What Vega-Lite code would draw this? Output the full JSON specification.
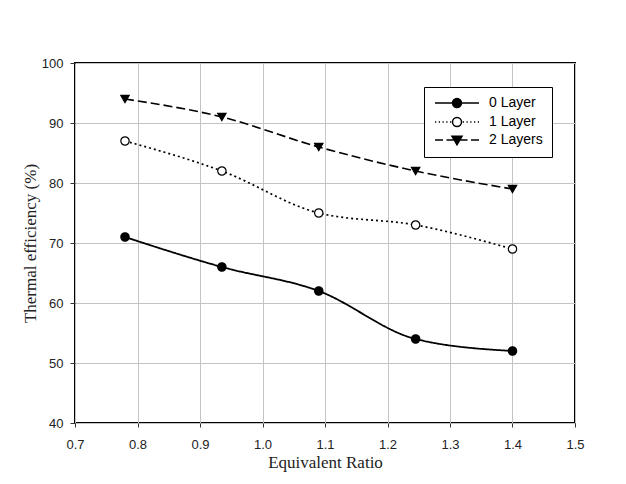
{
  "$schema": "https://vega.github.io/schema/vega-lite/v6.json",
  "width": 500,
  "height": 360,
  "autosize": "none",
  "padding": {"left": 75, "top": 63, "right": 51, "bottom": 61},
  "background": "white",
  "data": {
    "values": [
      {"ratio": 0.78, "eff": 71, "series": "0 Layer"},
      {"ratio": 0.935, "eff": 66, "series": "0 Layer"},
      {"ratio": 1.09, "eff": 62, "series": "0 Layer"},
      {"ratio": 1.245, "eff": 54, "series": "0 Layer"},
      {"ratio": 1.4, "eff": 52, "series": "0 Layer"},
      {"ratio": 0.78, "eff": 87, "series": "1 Layer"},
      {"ratio": 0.935, "eff": 82, "series": "1 Layer"},
      {"ratio": 1.09, "eff": 75, "series": "1 Layer"},
      {"ratio": 1.245, "eff": 73, "series": "1 Layer"},
      {"ratio": 1.4, "eff": 69, "series": "1 Layer"},
      {"ratio": 0.78, "eff": 94, "series": "2 Layers"},
      {"ratio": 0.935, "eff": 91, "series": "2 Layers"},
      {"ratio": 1.09, "eff": 86, "series": "2 Layers"},
      {"ratio": 1.245, "eff": 82, "series": "2 Layers"},
      {"ratio": 1.4, "eff": 79, "series": "2 Layers"}
    ]
  },
  "encoding": {
    "x": {
      "field": "ratio", "type": "quantitative",
      "scale": {"domain": [0.7, 1.5], "nice": false, "zero": false},
      "axis": {
        "title": "Equivalent Ratio",
        "values": [0.7, 0.8, 0.9, 1.0, 1.1, 1.2, 1.3, 1.4, 1.5],
        "format": ".1f",
        "labelPadding": 11,
        "tickSize": 4,
        "titlePadding": 3,
        "labelFlush": false
      }
    },
    "y": {
      "field": "eff", "type": "quantitative",
      "scale": {"domain": [40, 100], "nice": false, "zero": false},
      "axis": {
        "title": "Thermal efficiency (%)",
        "values": [40, 50, 60, 70, 80, 90, 100],
        "labelPadding": 7,
        "tickSize": 5,
        "titlePadding": 2,
        "labelFlush": false
      }
    }
  },
  "layer": [
    {
      "mark": {"type": "line", "color": "black", "interpolate": "monotone"},
      "encoding": {
        "detail": {"field": "series"},
        "strokeDash": {
          "field": "series", "type": "nominal",
          "scale": {"domain": ["0 Layer", "1 Layer", "2 Layers"], "range": [[1, 0], [2, 3], [9, 4]]},
          "legend": null
        },
        "strokeWidth": {
          "field": "series", "type": "nominal",
          "scale": {"domain": ["0 Layer", "1 Layer", "2 Layers"], "range": [1.8, 1.6, 2]},
          "legend": null
        }
      }
    },
    {
      "mark": {"type": "point", "filled": false, "stroke": "black", "strokeWidth": 1.2, "size": 70, "opacity": 1},
      "encoding": {
        "shape": {
          "field": "series", "type": "nominal",
          "scale": {"domain": ["0 Layer", "1 Layer", "2 Layers"], "range": ["circle", "circle", "triangle-down"]},
          "legend": null
        },
        "fill": {
          "field": "series", "type": "nominal",
          "scale": {"domain": ["0 Layer", "1 Layer", "2 Layers"], "range": ["black", "white", "black"]},
          "legend": null
        }
      }
    },
    {
      "transform": [{"filter": "datum.ratio > 5"}],
      "mark": {"type": "point", "filled": false, "strokeWidth": 1.5, "size": 100, "opacity": 1},
      "encoding": {
        "shape": {
          "field": "series", "type": "nominal",
          "scale": {
            "domain": ["0 Layer", "1 Layer", "2 Layers"],
            "range": [
              "M-4.4,0L4.4,0M0.9,0A0.9,0.9,0,1,1,-0.9,0A0.9,0.9,0,1,1,0.9,0Z",
              "M-4.4,0L-4.15,0M-3.65,0L-3.4,0M-2.9,0L-2.65,0M-2.15,0L-1.9,0M-1.4,0L-1.15,0M1.15,0L1.4,0M1.9,0L2.15,0M2.65,0L2.9,0M3.4,0L3.65,0M4.15,0L4.4,0M0.9,0A0.9,0.9,0,1,1,-0.9,0A0.9,0.9,0,1,1,0.9,0Z",
              "M-4.4,0L-2.8,0M-2.1,0L-0.6,0M0.6,0L2.1,0M2.8,0L4.4,0M-1,-0.75L1,-0.75L0,0.95Z"
            ]
          },
          "legend": {
            "title": null,
            "orient": "none",
            "legendX": 349,
            "legendY": 24,
            "fillColor": "white",
            "strokeColor": "black",
            "padding": 9,
            "symbolSize": 100,
            "symbolOffset": 17,
            "symbolStrokeWidth": 1.5,
            "labelFont": "Liberation Sans",
            "labelFontSize": 14,
            "labelColor": "black",
            "labelOffset": 25,
            "rowPadding": 3
          }
        },
        "fill": {
          "field": "series", "type": "nominal",
          "scale": {"domain": ["0 Layer", "1 Layer", "2 Layers"], "range": ["black", "white", "black"]},
          "legend": {
            "title": null,
            "orient": "none",
            "legendX": 349,
            "legendY": 24,
            "fillColor": "white",
            "strokeColor": "black",
            "padding": 9,
            "symbolSize": 100,
            "symbolOffset": 17,
            "symbolStrokeWidth": 1.5,
            "labelFont": "Liberation Sans",
            "labelFontSize": 14,
            "labelColor": "black",
            "labelOffset": 25,
            "rowPadding": 3
          }
        },
        "stroke": {
          "field": "series", "type": "nominal",
          "scale": {"domain": ["0 Layer", "1 Layer", "2 Layers"], "range": ["black", "black", "black"]},
          "legend": {
            "title": null,
            "orient": "none",
            "legendX": 349,
            "legendY": 24,
            "fillColor": "white",
            "strokeColor": "black",
            "padding": 9,
            "symbolSize": 100,
            "symbolOffset": 17,
            "symbolStrokeWidth": 1.5,
            "labelFont": "Liberation Sans",
            "labelFontSize": 14,
            "labelColor": "black",
            "labelOffset": 25,
            "rowPadding": 3
          }
        }
      }
    }
  ],
  "resolve": {
    "scale": {"shape": "independent", "fill": "independent", "stroke": "independent"},
    "legend": {"shape": "independent", "fill": "independent", "stroke": "independent"}
  },
  "config": {
    "view": {"stroke": "black", "strokeWidth": 2},
    "axis": {
      "domain": false,
      "grid": true,
      "gridColor": "#c4c4c4",
      "gridWidth": 1,
      "tickColor": "#333333",
      "tickWidth": 1,
      "labelFont": "Liberation Sans",
      "labelFontSize": 13,
      "labelColor": "#222222",
      "titleFont": "Liberation Serif",
      "titleFontSize": 17,
      "titleFontWeight": "normal",
      "titleColor": "#222222"
    }
  }
}
